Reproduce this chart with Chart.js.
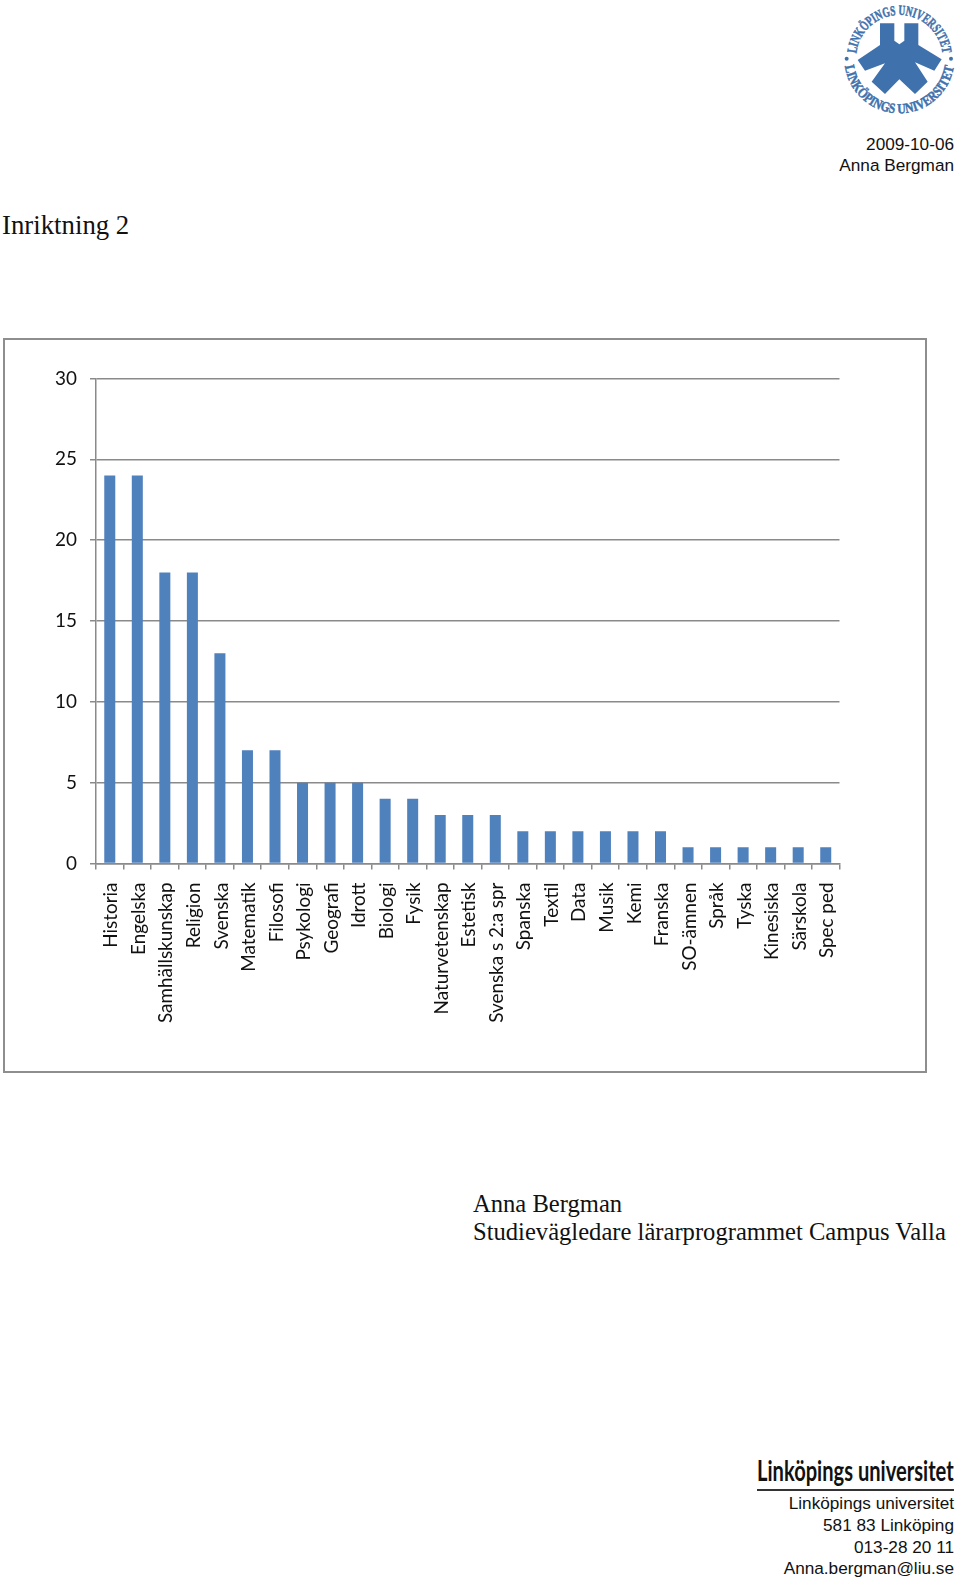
<!DOCTYPE html>
<html lang="sv">
<head>
<meta charset="utf-8">
<title>Inriktning 2</title>
<script src="https://cdn.jsdelivr.net/npm/chart.js@4"></script>
<style>
html, body { margin: 0; padding: 0; background: #fff; }
body { position: relative; width: 960px; height: 1580px; overflow: hidden; color: #000; }
.txt { position: absolute; white-space: pre; line-height: 1; }
.sans { font-family: "Liberation Sans", Arial, sans-serif; font-size: 17.2px; right: 6px; text-align: right; color: #111; }
.serif { font-family: "Liberation Serif", serif; color: #111; }
#frame { position: absolute; left: 3px; top: 338px; width: 920px; height: 731px; border: 2px solid #8e8e8e; }
#chart { position: absolute; left: 0; top: 0; }
#logo { position: absolute; left: 835px; top: 0; width: 125px; height: 125px; }
#rule { position: absolute; left: 757px; top: 1489px; width: 197px; height: 1.5px; background: #333; }
#wordmark { transform-origin: left top; }
</style>
</head>
<body>
<svg id="logo" viewBox="0 0 375 375">
  <defs>
    <path id="arcTop" d="M 63 175 A 130 130 0 0 1 323 175"/>
    <path id="arcBottom" d="M 28 175 A 165 165 0 0 0 358 175"/>
  </defs>
  <polygon fill="#3f72ad" points="135,70 178,70 178,122 193,133 208,122 208,70 250,70 250,135 320,178 298,212 240,187 278,245 240,282 193,238 150,282 110,245 150,190 90,212 68,180 135,135"/>
  <g fill="#3f72ad" stroke="#3f72ad" stroke-width="1.5" font-family="Liberation Serif" font-weight="bold" font-size="42">
    <text textLength="380" lengthAdjust="spacingAndGlyphs"><textPath href="#arcTop" startOffset="3.5%">LINKÖPINGS UNIVERSITET</textPath></text>
    <text textLength="470" lengthAdjust="spacingAndGlyphs"><textPath href="#arcBottom" startOffset="4.5%">LINKÖPINGS UNIVERSITET</textPath></text>
  </g>
  <circle cx="35" cy="176" r="6" fill="#3f72ad"/>
  <circle cx="348" cy="176" r="6" fill="#3f72ad"/>
</svg>

<div class="txt sans" style="top:135.5px">2009-10-06</div>
<div class="txt sans" style="top:156.5px">Anna Bergman</div>

<div class="txt serif" style="left:2px; top:212px; font-size:26.8px">Inriktning 2</div>

<div id="frame"><canvas id="chart" width="920" height="731"></canvas></div>

<div class="txt serif" style="left:473px; top:1191.5px; font-size:24.6px">Anna Bergman</div>
<div class="txt serif" style="left:473px; top:1219.5px; font-size:24.6px">Studievägledare lärarprogrammet Campus Valla</div>

<div class="txt" id="wordmark" style="left:757px; top:1455px; font-family:Lato,sans-serif; font-weight:bold; font-size:29px; color:#111">Linköpings universitet</div>
<div id="rule"></div>
<div class="txt sans" style="top:1495px">Linköpings universitet</div>
<div class="txt sans" style="top:1517px">581 83 Linköping</div>
<div class="txt sans" style="top:1538.5px">013-28 20 11</div>
<div class="txt sans" style="top:1560px">Anna.bergman@liu.se</div>

<script>
const categories = ['Historia', 'Engelska', 'Samhällskunskap', 'Religion', 'Svenska', 'Matematik', 'Filosofi',
    'Psykologi', 'Geografi', 'Idrott', 'Biologi', 'Fysik', 'Naturvetenskap', 'Estetisk', 'Svenska s 2:a spr',
    'Spanska', 'Textil', 'Data', 'Musik', 'Kemi', 'Franska', 'SO-ämnen', 'Språk', 'Tyska', 'Kinesiska',
    'Särskola', 'Spec ped'];
const values = [24, 24, 18, 18, 13, 7, 7, 5, 5, 5, 4, 4, 3, 3, 3, 2, 2, 2, 2, 2, 2, 1, 1, 1, 1, 1, 1];

const axisGrey = '#8a8a8a';
const labelFont = { family: 'Lato', size: 18.9 };

// squeeze the wordmark to the width of the rule under it
const wordmark = document.getElementById('wordmark');
wordmark.style.transform = 'scaleX(' + (197 / wordmark.offsetWidth) + ')';

const ctx = document.getElementById('chart');

new Chart(ctx, {
    type: 'bar',
    data: {
        labels: categories,
        datasets: [{
            data: values,
            backgroundColor: '#4f81bd',
            barPercentage: 0.4,
            categoryPercentage: 1
        }]
    },
    options: {
        responsive: false,
        animation: false,
        devicePixelRatio: 1,
        layout: {
            padding: { top: 38.5, right: 85.5, bottom: 0, left: 0 }
        },
        plugins: {
            legend: { display: false },
            tooltip: { enabled: false }
        },
        scales: {
            y: {
                min: 0,
                max: 30,
                afterFit: (axis) => { axis.width = 91; },
                ticks: { stepSize: 5, padding: 13, color: '#111', font: labelFont },
                grid: { color: axisGrey, lineWidth: 1.5, tickLength: 6 },
                border: { color: axisGrey, width: 1.5 }
            },
            x: {
                afterFit: (axis) => { axis.height = 207.5; },
                ticks: { autoSkip: false, minRotation: 90, maxRotation: 90, padding: 13, labelOffset: 1.5, color: '#111', font: labelFont },
                grid: { drawOnChartArea: false, color: axisGrey, lineWidth: 1.5, tickLength: 6 },
                border: { color: axisGrey, width: 1.5 }
            }
        }
    }
});
</script>
</body>
</html>
